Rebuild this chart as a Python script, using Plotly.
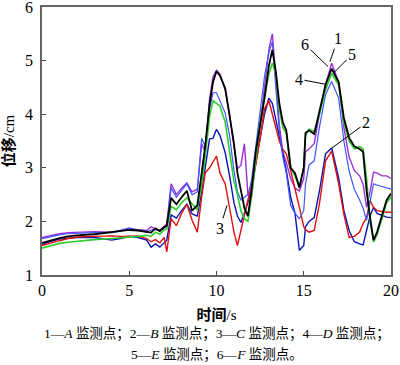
import plotly.graph_objects as go

t = [0, 0.5, 1, 1.5, 2, 3, 4, 4.5, 5, 5.5, 6, 6.25, 6.5, 6.75, 7, 7.15, 7.4, 7.7, 8, 8.3,
     8.6, 8.9, 9.15, 9.35, 9.6, 9.8, 10, 10.2, 10.5, 10.75, 11, 11.2, 11.4, 11.6, 11.8,
     12, 12.25, 12.5, 12.75, 13, 13.2, 13.4, 13.6, 13.8, 14, 14.25, 14.5, 14.75, 15, 15.1,
     15.3, 15.6, 15.9, 16.25, 16.6, 17, 17.3, 17.6, 17.9, 18.2, 18.4, 18.6, 18.8, 19, 19.2,
     19.5, 19.75, 20]

s1_A = [1.70, 1.74, 1.77, 1.79, 1.80, 1.81, 1.80, 1.82, 1.86, 1.84, 1.83, 1.90, 1.86, 1.84, 1.90, 1.95, 2.70, 2.50, 2.62, 2.72,
        2.55, 2.60, 3.45, 3.30, 4.28, 4.70, 4.82, 4.75, 4.45, 4.00, 3.40, 2.98, 3.05, 3.45, 2.50,
        2.45, 3.10, 3.80, 4.60, 5.20, 5.50, 4.70, 3.80, 3.30, 3.10, 2.80, 2.62, 2.57, 2.80, 3.30,
        3.35, 3.45, 4.00, 4.55, 4.95, 4.60, 3.75, 3.20, 2.95, 2.85, 2.70, 2.26, 2.55, 2.92, 2.90,
        2.85, 2.85, 2.80]
s2_B = [1.57, 1.63, 1.67, 1.69, 1.70, 1.70, 1.65, 1.68, 1.72, 1.70, 1.65, 1.52, 1.58, 1.52, 1.60, 1.65, 2.12, 2.06, 2.20, 2.32,
        2.14, 2.10, 2.55, 3.00, 3.54, 3.55, 3.72, 3.60, 3.28, 2.85, 2.35, 2.10, 1.98, 2.15, 2.35,
        2.65, 3.10, 3.50, 4.00, 4.30, 4.20, 3.90, 3.60, 3.25, 2.95, 2.45, 2.15, 1.46, 1.55, 1.90,
        2.00, 2.07, 2.57, 3.26, 3.37, 2.81, 2.20, 1.83, 1.62, 1.58, 1.56, 1.83, 2.10, 2.26, 2.15,
        2.11, 2.08, 2.07]
s3_C = [1.55, 1.60, 1.64, 1.68, 1.71, 1.72, 1.73, 1.72, 1.72, 1.73, 1.68, 1.62, 1.66, 1.60, 1.70, 1.43, 2.05, 1.92, 2.15, 2.32,
        2.02, 1.80, 2.45, 2.90, 3.00, 3.10, 3.22, 2.90, 2.70, 2.25, 1.80, 1.55, 1.85, 2.10, 2.40,
        2.65, 3.05, 3.55, 4.10, 4.25, 4.00, 3.75, 3.50, 3.35, 3.26, 2.95, 2.63, 2.26, 1.90, 1.85,
        1.80, 1.83, 2.33, 3.13, 3.31, 2.70, 2.13, 1.70, 1.72, 1.80, 1.96, 2.07, 2.39, 2.26, 2.20,
        2.18, 2.17, 2.17]
s4_D = [1.68, 1.72, 1.75, 1.77, 1.78, 1.79, 1.79, 1.83, 1.88, 1.84, 1.80, 1.84, 1.85, 1.82, 1.88, 1.92, 2.62, 2.45, 2.58, 2.70,
        2.50, 2.55, 3.55, 3.40, 4.10, 4.40, 4.40, 4.25, 4.02, 3.60, 2.95, 2.55, 2.40, 2.45, 2.50,
        2.75, 3.40, 4.00, 4.70, 5.15, 5.35, 4.50, 3.70, 3.20, 2.90, 2.30, 2.15, 2.05, 2.20, 2.70,
        3.05, 3.13, 3.76, 4.37, 4.61, 4.30, 3.50, 2.94, 2.60, 2.40, 2.25, 2.02, 2.40, 2.70, 2.68,
        2.65, 2.62, 2.60]
s5_E = [1.50, 1.55, 1.59, 1.61, 1.63, 1.66, 1.68, 1.69, 1.70, 1.72, 1.74, 1.72, 1.80, 1.76, 1.84, 1.86, 2.28, 2.22, 2.35, 2.44,
        2.33, 2.22, 2.70, 3.20, 3.95, 4.25, 4.20, 4.15, 3.85, 3.30, 2.75, 2.50, 2.20, 2.05, 2.00,
        2.45, 3.20, 3.85, 4.30, 4.75, 4.95, 4.75, 4.10, 3.75, 3.65, 3.00, 2.85, 2.65, 3.00, 3.60,
        3.72, 3.68, 4.00, 4.45, 4.76, 4.55, 3.85, 3.50, 3.35, 3.40, 3.35, 2.80, 2.00, 1.62, 1.75,
        2.10, 2.35, 2.45]
s6_F = [1.60, 1.65, 1.69, 1.72, 1.74, 1.76, 1.80, 1.82, 1.84, 1.83, 1.80, 1.79, 1.87, 1.82, 1.89, 1.92, 2.44, 2.32, 2.45, 2.57,
        2.20, 2.30, 2.90, 3.40, 4.17, 4.60, 4.80, 4.72, 4.48, 4.00, 3.45, 2.90, 2.55, 2.25, 2.10,
        2.55, 3.30, 3.80, 4.30, 4.90, 5.20, 4.80, 4.20, 3.85, 3.70, 3.00, 2.90, 2.63, 3.00, 3.65,
        3.70, 3.63, 4.05, 4.55, 4.85, 4.60, 3.93, 3.56, 3.40, 3.35, 3.30, 2.57, 2.07, 1.65, 1.80,
        2.15, 2.40, 2.52]

series = [
    ("1", s1_A, "#9b30d8", 1.4),
    ("2", s2_B, "#0a14b4", 1.4),
    ("3", s3_C, "#e01010", 1.4),
    ("4", s4_D, "#4055ff", 1.2),
    ("5", s5_E, "#2ecc2e", 1.6),
    ("6", s6_F, "#000000", 1.8),
]

fig = go.Figure()
for name, ys, col, w in series:
    fig.add_trace(go.Scatter(x=t, y=ys, mode="lines", name=name,
                             line=dict(color=col, width=w), showlegend=False))

labels = [("1", 16.5, 4.98, 8, -23), ("6", 16.39, 4.89, -23, -22),
          ("5", 16.68, 4.76, 19, -19), ("4", 16.22, 4.56, -26, -5),
          ("2", 16.62, 3.37, 34, -25), ("3", 10.6, 2.3, -7, 23)]
for txt, xx, yy, ax, ay in labels:
    fig.add_annotation(x=xx, y=yy, text=txt, showarrow=True, arrowhead=0, arrowwidth=1,
                       arrowcolor="black", ax=ax, ay=ay,
                       font=dict(family="Liberation Serif", size=16, color="black"))

serif = "Liberation Serif, Noto Sans CJK SC"
fig.add_annotation(xref="paper", yref="paper", x=0.5, y=-0.222, yanchor="middle",
                   text="1—<i>A</i> 监测点；2—<i>B</i> 监测点；3—<i>C</i> 监测点；4—<i>D</i> 监测点；",
                   showarrow=False, font=dict(family=serif, size=13.5, color="black"))
fig.add_annotation(xref="paper", yref="paper", x=0.5, y=-0.298, yanchor="middle",
                   text="5—<i>E</i> 监测点；6—<i>F</i> 监测点。",
                   showarrow=False, font=dict(family=serif, size=13.5, color="black"))

fig.update_xaxes(range=[0, 20], tickvals=[0, 5, 10, 15, 20], ticks="inside", ticklen=4,
                 showline=True, mirror=True, linecolor="#666", linewidth=1.5,
                 showgrid=False, zeroline=False, automargin=False, ticklabeloverflow="allow",
                 tickfont=dict(family=serif, size=16, color="black"),
                 title=dict(text="<b>时间</b>/s", standoff=12,
                            font=dict(family=serif, size=15, color="black")))
fig.update_yaxes(range=[1, 6], tickvals=[1, 2, 3, 4, 5, 6], ticks="inside", ticklen=4,
                 showline=True, mirror=True, linecolor="#666", linewidth=1.5,
                 showgrid=False, zeroline=False, automargin=False, ticklabelstandoff=4,
                 ticklabeloverflow="allow",
                 tickfont=dict(family=serif, size=16, color="black"),
                 title=dict(text="<b>位移</b>/cm", standoff=12,
                            font=dict(family=serif, size=15, color="black")))
fig.update_layout(width=400, height=365, margin=dict(l=42, r=9, t=7, b=90),
                  plot_bgcolor="white", paper_bgcolor="white")
fig.write_html("out.html", config={"displayModeBar": False},
               post_script="document.body.style.margin='0';")
